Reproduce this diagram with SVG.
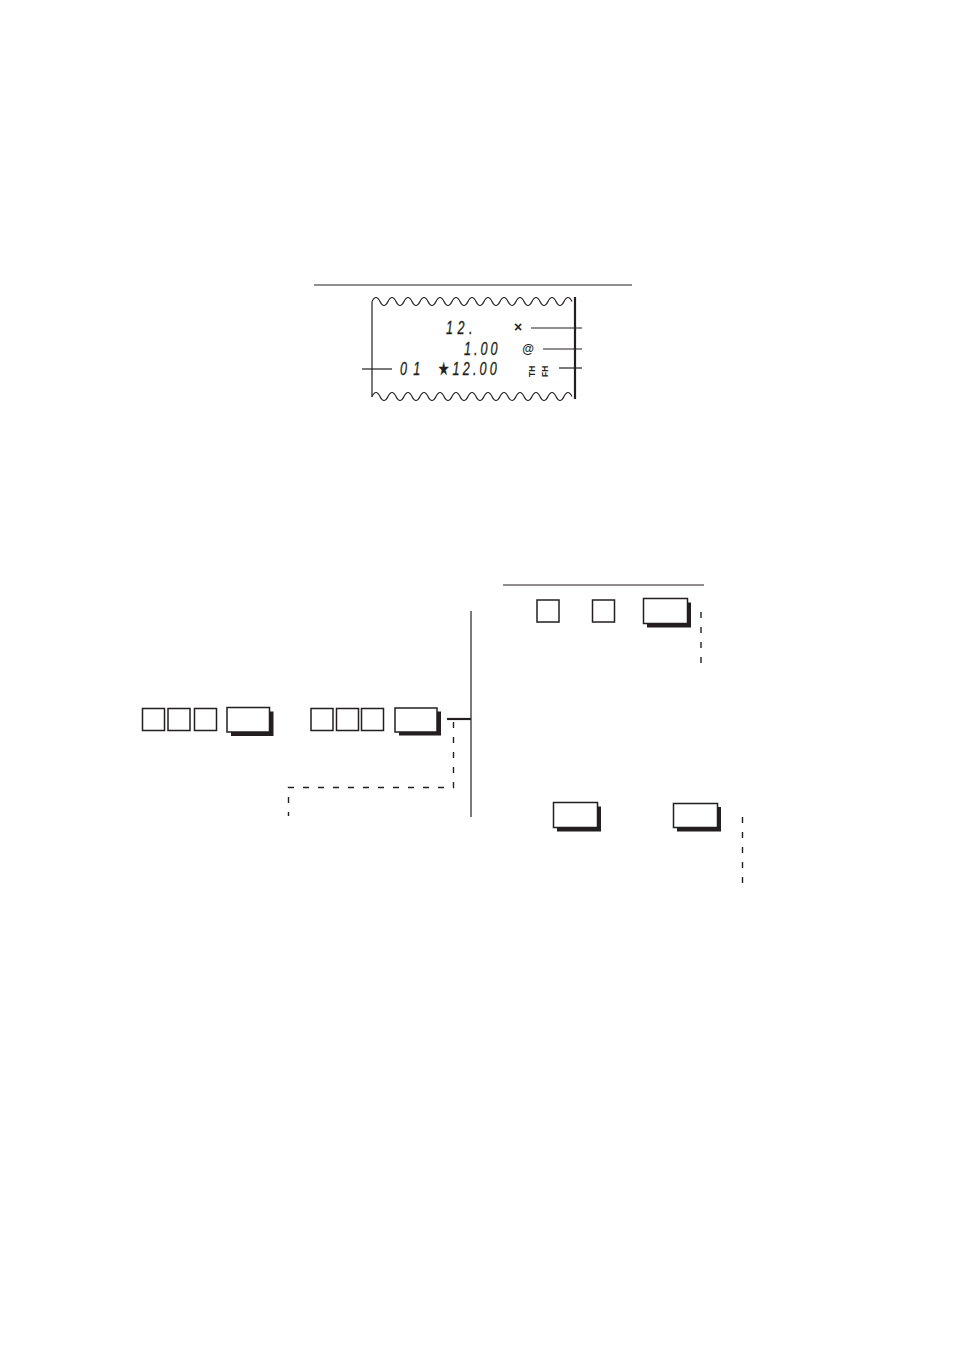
<svg xmlns="http://www.w3.org/2000/svg" width="954" height="1348" viewBox="0 0 954 1348">
<style>
.ln{stroke:#231f20;stroke-width:1.2;fill:none}
.thk{stroke:#231f20;stroke-width:2.2;fill:none}
.dash{stroke:#231f20;stroke-width:1.4;fill:none;stroke-dasharray:6 9}
.key{fill:#fff;stroke:#231f20;stroke-width:1.5}
.sh{fill:#231f20}
.rc{font-family:"Liberation Sans","DejaVu Sans",sans-serif;font-style:italic;font-size:18px;fill:#231f20;stroke:#231f20;stroke-width:0.3}
.sym{font-family:"Liberation Sans","DejaVu Sans",sans-serif;font-weight:bold;fill:#231f20}
</style>
<rect width="954" height="1348" fill="#fff"/>

<g id="receipt">
<line class="ln" x1="314" y1="285" x2="632" y2="285"/>
<path class="ln" d="M372,301.5 q4,-8 8,0 t8,0 t8,0 t8,0 t8,0 t8,0 t8,0 t8,0 t8,0 t8,0 t8,0 t8,0 t8,0 t8,0 t8,0 t8,0 t8,0 t8,0 t8,0 t8,0 t8,0 t8,0 t8,0 t8,0 t8,0"/>
<path class="ln" d="M372,396.5 q4,-8 8,0 t8,0 t8,0 t8,0 t8,0 t8,0 t8,0 t8,0 t8,0 t8,0 t8,0 t8,0 t8,0 t8,0 t8,0 t8,0 t8,0 t8,0 t8,0 t8,0 t8,0 t8,0 t8,0 t8,0 t8,0"/>
<line class="ln" x1="372" y1="301.5" x2="372" y2="397"/>
<line class="thk" x1="575" y1="297" x2="575" y2="399"/>
<text class="rc" transform="translate(446,334) scale(0.7,1)" textLength="38" lengthAdjust="spacing">12.</text>
<text class="rc" transform="translate(464,355) scale(0.7,1)" textLength="48" lengthAdjust="spacing">1.00</text>
<text class="rc" transform="translate(400,375) scale(0.7,1)" textLength="29" lengthAdjust="spacing">01</text>
<text class="rc" transform="translate(438,375) scale(0.7,1)" textLength="84" lengthAdjust="spacing">★12.00</text>
<text class="sym" x="518" y="332" font-size="14" text-anchor="middle">×</text>
<text class="sym" x="528" y="353" font-size="12" text-anchor="middle">@</text>
<text class="sym" font-size="8.5" transform="translate(535,377) rotate(-90)">TH</text>
<text class="sym" font-size="8.5" transform="translate(548,377) rotate(-90)">FH</text>
<line class="ln" x1="531" y1="328" x2="582" y2="328"/>
<line class="ln" x1="543" y1="349" x2="582" y2="349"/>
<line class="ln" x1="559" y1="368" x2="582" y2="368"/>
<line class="ln" x1="362" y1="369" x2="392" y2="369"/>
</g>

<g id="key-row-left">
<rect class="key" x="142.5" y="708.5" width="22" height="22"/>
<rect class="key" x="168" y="708.5" width="22" height="22"/>
<rect class="key" x="194.5" y="708.5" width="22" height="22"/>
<rect class="sh" x="231" y="711.5" width="42.5" height="24.5"/>
<rect class="key" x="227" y="707.5" width="42.5" height="24.5"/>
</g>

<g id="key-row-mid">
<rect class="key" x="311" y="708.5" width="22" height="22"/>
<rect class="key" x="336.5" y="708.5" width="22" height="22"/>
<rect class="key" x="361.5" y="708.5" width="22" height="22"/>
<rect class="sh" x="399" y="711.5" width="42" height="24"/>
<rect class="key" x="395" y="708" width="42" height="24"/>
</g>

<g id="key-row-top-right">
<rect class="key" x="537" y="600" width="22" height="22"/>
<rect class="key" x="592.5" y="600" width="22" height="22"/>
<rect class="sh" x="647" y="602.5" width="44" height="25"/>
<rect class="key" x="643.5" y="598.5" width="44" height="25"/>
</g>

<g id="key-row-bottom-right">
<rect class="sh" x="557" y="806.5" width="44" height="25"/>
<rect class="key" x="553.5" y="802.5" width="44" height="25"/>
<rect class="sh" x="677" y="807" width="44" height="24.5"/>
<rect class="key" x="673.5" y="803.5" width="44" height="24"/>
</g>

<g id="connectors">
<line class="ln" x1="503" y1="585" x2="704" y2="585" stroke-width="1.8"/>
<line class="ln" x1="471" y1="611" x2="471" y2="817" stroke-width="1.4"/>
<line class="thk" x1="447" y1="719" x2="471" y2="719" stroke-width="2"/>
<path class="dash" d="M453.5,722 V787.5 H288.5 V816"/>
<line class="dash" x1="701" y1="612" x2="701" y2="668" stroke-dasharray="5 10"/>
<line class="dash" x1="742.5" y1="817" x2="742.5" y2="883" stroke-dasharray="5.5 9.5"/>
</g>
</svg>
